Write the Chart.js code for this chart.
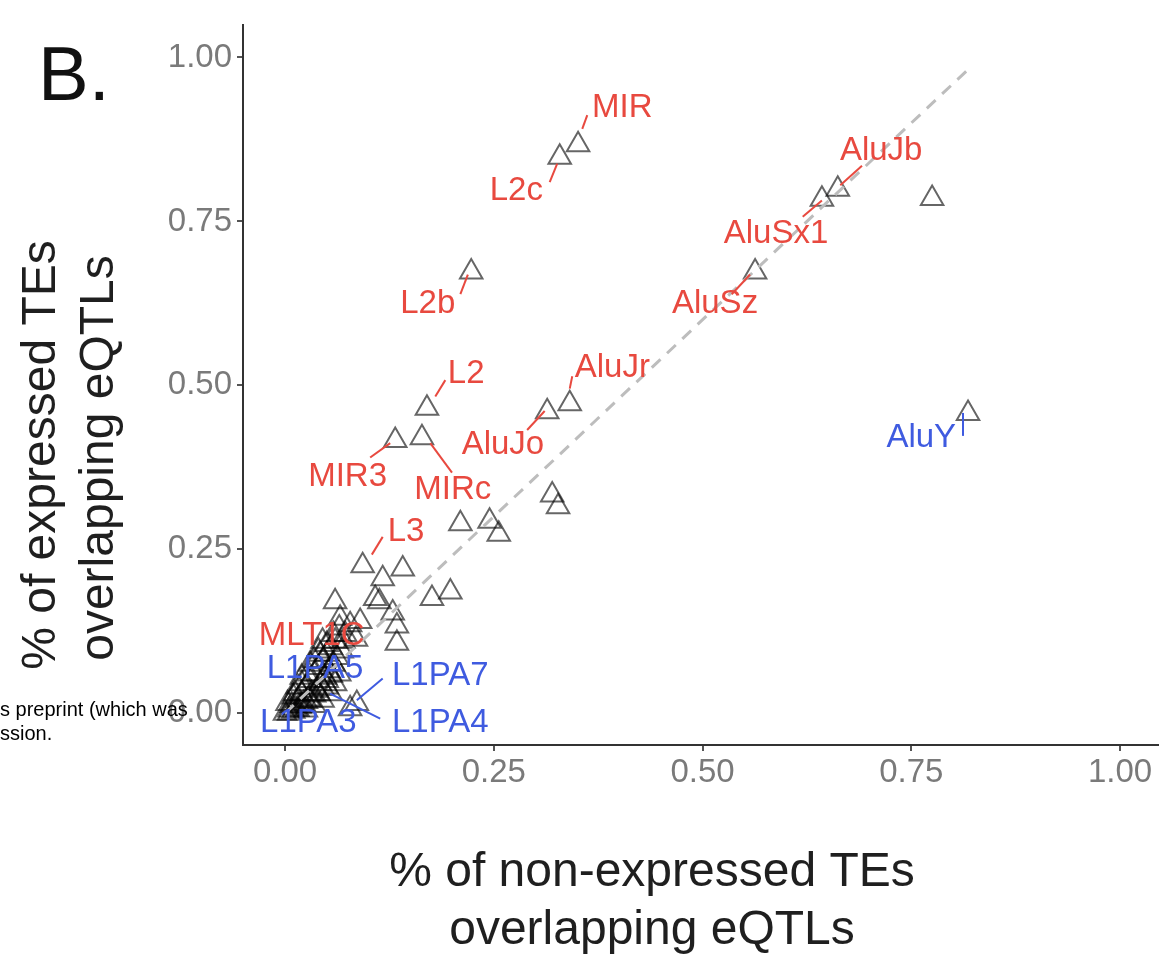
<!DOCTYPE html>
<html>
<head>
<meta charset="utf-8">
<script src="https://cdn.jsdelivr.net/npm/chart.js@4.4.1/dist/chart.umd.min.js"></script>
<style>
html, body { margin: 0; padding: 0; background: #fff; overflow: hidden; }
</style>
</head>
<body>
<canvas id="myChart" width="1174" height="954"></canvas>
<script>
// x = % of non-expressed TEs overlapping eQTLs, y = % of expressed TEs overlapping eQTLs
var pointX = [0.329, 0.351, 0.223, 0.643, 0.662, 0.775, 0.563, 0.818, 0.170, 0.314, 0.341, 0.132, 0.164,
  0.320, 0.327, 0.210, 0.245, 0.256, 0.093, 0.117, 0.141, 0.108, 0.113, 0.176, 0.198, 0.060, 0.129,
  0.134, 0.134, 0.066, 0.078, 0.090, 0.072, 0.085, 0.060, 0.086, 0.078,
  0.000, 0.005, 0.008, 0.012, 0.015, 0.018, 0.020, 0.022, 0.025, 0.028, 0.030, 0.032, 0.035, 0.038,
  0.040, 0.042, 0.045, 0.048, 0.050, 0.052, 0.055, 0.058, 0.010, 0.003, 0.025, 0.035, 0.045, 0.055,
  0.060, 0.065, 0.062, 0.030, 0.020, 0.040, 0.015, 0.050, 0.068, 0.070,
  0.005, 0.010, 0.015, 0.020, 0.025, 0.030, 0.035, 0.040, 0.045, 0.050, 0.055, 0.012, 0.020, 0.028,
  0.035, 0.042, 0.050, 0.058, 0.065, 0.045];
var pointY = [0.848, 0.867, 0.673, 0.784, 0.799, 0.785, 0.673, 0.457, 0.465, 0.460, 0.472, 0.416, 0.420,
  0.333, 0.315, 0.289, 0.293, 0.273, 0.225, 0.205, 0.220, 0.175, 0.170, 0.175, 0.185, 0.170, 0.153,
  0.133, 0.107, 0.145, 0.135, 0.140, 0.120, 0.113, 0.110, 0.015, 0.007,
  0.000, 0.005, 0.012, 0.008, 0.020, 0.010, 0.030, 0.015, 0.040, 0.022, 0.050, 0.030, 0.060, 0.035,
  0.070, 0.045, 0.080, 0.055, 0.090, 0.065, 0.100, 0.075, 0.025, 0.015, 0.005, 0.012, 0.020, 0.030,
  0.045, 0.060, 0.085, 0.075, 0.055, 0.095, 0.040, 0.040, 0.095, 0.110,
  0.000, 0.003, 0.006, 0.012, 0.018, 0.020, 0.028, 0.030, 0.038, 0.050, 0.058, 0.030, 0.045, 0.060,
  0.080, 0.090, 0.105, 0.120, 0.130, 0.110];

// dashed reference line
var fitX = [0, 0.82];
var fitY = [0, 0.984];

var xTicks = [0, 0.25, 0.5, 0.75, 1.0];
var yTicks = [0, 0.25, 0.5, 0.75, 1.0];

// labelled TE families (label centre and leader segment in data units)
var labelNames = ['MIR', 'L2c', 'L2b', 'AluJb', 'AluSx1', 'AluSz', 'AluY', 'L2', 'AluJr', 'AluJo',
  'MIR3', 'MIRc', 'L3', 'MLT1C', 'L1PA5', 'L1PA7', 'L1PA3', 'L1PA4'];
var labelGroup = ['up', 'up', 'up', 'up', 'up', 'up', 'down', 'up', 'up', 'up',
  'up', 'up', 'up', 'up', 'down', 'down', 'down', 'down'];
var labelX = [0.404, 0.277, 0.171, 0.714, 0.588, 0.515, 0.762, 0.217, 0.392, 0.261,
  0.075, 0.201, 0.145, 0.032, 0.036, 0.186, 0.028, 0.186];
var labelY = [0.923, 0.796, 0.625, 0.857, 0.731, 0.625, 0.420, 0.518, 0.527, 0.409,
  0.361, 0.340, 0.276, 0.118, 0.068, 0.057, -0.014, -0.014];
var segX0 = [0.356, 0.317, 0.210, 0.665, 0.620, 0.535, 0.812, 0.180, 0.341, 0.290,
  0.102, 0.174, 0.104, null, null, 0.086, null, 0.054];
var segY0 = [0.891, 0.810, 0.639, 0.805, 0.757, 0.639, 0.458, 0.483, 0.495, 0.432,
  0.390, 0.412, 0.242, null, null, 0.020, null, 0.030];
var segX1 = [0.362, 0.326, 0.219, 0.691, 0.643, 0.557, 0.812, 0.192, 0.344, 0.311,
  0.126, 0.200, 0.117, null, null, 0.117, null, 0.114];
var segY1 = [0.912, 0.838, 0.669, 0.835, 0.782, 0.669, 0.423, 0.508, 0.514, 0.461,
  0.412, 0.367, 0.269, null, null, 0.053, null, -0.008];

var groupColor = { up: '#e8493f', down: '#3f5be0' };
var fontFamily = '"Liberation Sans", Arial, Helvetica, sans-serif';

var points = pointX.map(function (x, i) { return { x: x, y: pointY[i] }; });
var fitPoints = fitX.map(function (x, i) { return { x: x, y: fitY[i] }; });

// labels, axis titles, panel letter and the cut-off watermark drawn on top
var textPlugin = {
  id: 'textPlugin',
  afterDraw: function (chart) {
    var c = chart.ctx;
    var xs = chart.scales.x, ys = chart.scales.y;
    c.save();
    c.lineWidth = 2;
    for (var i = 0; i < labelNames.length; i++) {
      if (segX0[i] === null) continue;
      c.strokeStyle = groupColor[labelGroup[i]];
      c.beginPath();
      c.moveTo(xs.getPixelForValue(segX0[i]), ys.getPixelForValue(segY0[i]));
      c.lineTo(xs.getPixelForValue(segX1[i]), ys.getPixelForValue(segY1[i]));
      c.stroke();
    }
    c.font = '33px ' + fontFamily;
    c.textAlign = 'center';
    c.textBaseline = 'middle';
    for (var j = 0; j < labelNames.length; j++) {
      c.fillStyle = groupColor[labelGroup[j]];
      c.fillText(labelNames[j], xs.getPixelForValue(labelX[j]), ys.getPixelForValue(labelY[j]));
    }

    // axis titles
    c.fillStyle = '#1f1f1f';
    c.font = '48px ' + fontFamily;
    c.fillText('% of non-expressed TEs', 652, 873);
    c.fillText('overlapping eQTLs', 652, 931);
    c.save();
    c.translate(42, 455);
    c.rotate(-Math.PI / 2);
    c.fillText('% of expressed TEs', 0, 0);
    c.restore();
    c.save();
    c.translate(100, 458);
    c.rotate(-Math.PI / 2);
    c.fillText('overlapping eQTLs', 0, 0);
    c.restore();

    // panel letter
    c.fillStyle = '#111';
    c.textAlign = 'left';
    c.textBaseline = 'alphabetic';
    c.font = '76px ' + fontFamily;
    c.fillText('B.', 38, 100);

    // watermark fragment from the source page
    c.fillStyle = '#000';
    c.font = '20px ' + fontFamily;
    c.fillText('s preprint (which was', 0, 716);
    c.fillText('ssion.', 0, 740);
    c.restore();
  }
};

var ctx = document.getElementById('myChart').getContext('2d');
var chart = new Chart(ctx, {
  type: 'scatter',
  data: {
    datasets: [{
      type: 'line',
      data: fitPoints,
      borderColor: '#bdbdbd',
      borderWidth: 3,
      borderDash: [12, 9],
      pointRadius: 0,
      fill: false
    }, {
      data: points,
      pointStyle: 'triangle',
      pointRadius: 13,
      pointBorderWidth: 2,
      pointBorderColor: 'rgba(0,0,0,0.6)',
      pointBackgroundColor: 'rgba(0,0,0,0)'
    }]
  },
  options: {
    responsive: false,
    animation: false,
    events: [],
    layout: { padding: { top: 18, right: 0, bottom: 0, left: 0 } },
    plugins: { legend: { display: false }, tooltip: { enabled: false } },
    scales: {
      x: {
        type: 'linear',
        min: -0.0503,
        max: 1.0467,
        afterBuildTicks: function (s) { s.ticks = xTicks.map(function (v) { return { value: v }; }); },
        afterFit: function (s) { s.height = 209; },
        ticks: {
          color: '#7a7a7a',
          padding: 2,
          font: { size: 33, family: fontFamily },
          maxRotation: 0,
          callback: function (v) { return v.toFixed(2); }
        },
        grid: { display: true, drawOnChartArea: false, drawTicks: true, tickLength: 6, color: '#555', lineWidth: 2 },
        border: { display: true, color: '#333', width: 2 }
      },
      y: {
        type: 'linear',
        min: -0.0483,
        max: 1.0498,
        afterBuildTicks: function (s) { s.ticks = yTicks.map(function (v) { return { value: v }; }); },
        afterFit: function (s) { s.width = 243; },
        ticks: {
          color: '#7a7a7a',
          padding: 5,
          font: { size: 33, family: fontFamily },
          callback: function (v) { return v.toFixed(2); }
        },
        grid: { display: true, drawOnChartArea: false, drawTicks: true, tickLength: 6, color: '#555', lineWidth: 2 },
        border: { display: true, color: '#333', width: 2 }
      }
    }
  },
  plugins: [textPlugin]
});
</script>
</body>
</html>
